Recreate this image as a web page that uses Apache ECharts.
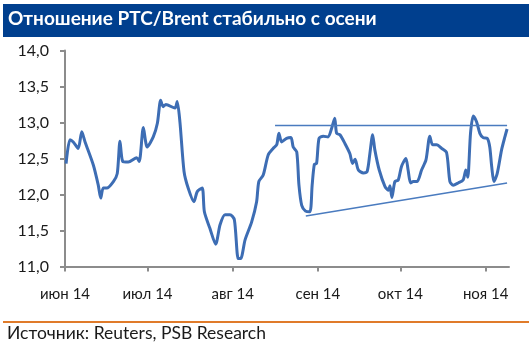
<!DOCTYPE html>
<html>
<head>
<meta charset="utf-8">
<script src="https://cdn.jsdelivr.net/npm/echarts@6/dist/echarts.min.js"></script>
<style>
  html, body { margin: 0; padding: 0; background: #fff; }
  #chart { width: 532px; height: 352px; }
</style>
</head>
<body>
<div id="chart"></div>
<script>
  // дни от 1 июня 2014
  const days = [
    0.4, 1.8, 3.0, 4.8, 6.1, 7.3, 10.3, 12.1, 13.0, 13.9, 15.2, 17.6, 19.0, 20.0, 21.0, 23.0,
    26.1, 27.0, 28.5, 29.9, 32.1, 33.6, 34.8, 35.7, 36.7, 40.0, 40.8, 41.8, 43.3, 44.8, 46.9,
    48.1, 49.9, 50.7, 52.7, 54.8, 56.4, 58.2, 60.0, 61.6, 63.0, 63.9, 65.5, 67.9, 69.7, 70.5,
    72.1, 73.9, 75.7, 77.0, 77.8, 78.8, 80.6, 82.2, 83.0, 84.3, 85.1, 86.1, 87.5, 89.1, 89.9,
    90.7, 91.5, 92.4, 93.9, 95.7, 97.0, 98.1, 98.8, 100.0, 101.8, 103.6, 104.6, 105.5, 106.7,
    108.5, 109.9, 110.9, 111.9, 112.7, 114.3, 116.4, 117.6, 118.2, 118.9, 120.0, 121.2, 122.4,
    124.0, 124.8, 125.7, 126.7, 128.1, 129.7, 131.3, 132.7, 133.7, 135.2, 137.0, 138.8, 140.0,
    141.2, 143.0, 144.8, 145.8, 146.5, 147.5, 148.5, 149.7, 150.9, 152.1, 153.6, 154.5, 155.2,
    156.0, 157.2, 158.8, 160.0, 160.8
  ];
  const ratio = [
    12.43, 12.76, 12.73, 12.64, 12.87, 12.73, 12.41, 12.13, 11.95, 12.09, 12.09, 12.18, 12.29, 12.74, 12.46, 12.45,
    12.51, 12.46, 12.93, 12.66, 12.80, 12.99, 13.31, 13.22, 13.25, 13.20, 13.29, 13.01, 12.32, 12.09, 11.90,
    12.04, 12.09, 11.76, 11.53, 11.31, 11.58, 11.72, 11.72, 11.65, 11.11, 11.11, 11.37, 11.62, 11.90, 12.18,
    12.27, 12.55, 12.64, 12.69, 12.85, 12.73, 12.78, 12.79, 12.66, 12.59, 12.13, 11.85, 11.77, 11.76, 12.13,
    12.42, 12.43, 12.78, 12.81, 12.80, 12.92, 13.06, 12.85, 12.83, 12.71, 12.57, 12.43, 12.49, 12.34,
    12.30, 12.32, 12.57, 12.83, 12.62, 12.34, 12.11, 12.06, 12.12, 11.96, 12.18, 12.20, 12.39,
    12.50, 12.34, 12.16, 12.18, 12.18, 12.34, 12.48, 12.81, 12.69, 12.69, 12.64, 12.58, 12.18,
    12.13, 12.16, 12.20, 12.34, 12.24, 12.85, 13.09, 13.01, 12.85, 12.79, 12.78, 12.66, 12.39,
    12.18, 12.29, 12.62, 12.80, 12.91
  ];
  // линии сопротивления и поддержки
  const topLine = [[76.4, 12.96], [160.8, 12.96]];
  const bottomLine = [[87.6, 11.70], [160.8, 12.16]];

  const monthTicks = [0, 30, 61, 92, 122, 153];
  const monthLabels = ['июн 14', 'июл 14', 'авг 14', 'сен 14', 'окт 14', 'ноя 14'];

  const font = 'Lato, "Noto Sans", sans-serif';
  const axisGray = '#8c8c8c';
  const lineBlue = '#3d6db4';

  const option = {
    animation: false,
    textStyle: { fontFamily: font },
    grid: { left: 65, right: 23, top: 50.5, bottom: 85.5 },
    graphic: [
      { type: 'rect', shape: { x: 3, y: 4, width: 526, height: 33 }, style: { fill: '#003f8e' } },
      {
        type: 'text', left: 8, top: 9,
        style: { text: 'Отношение РТС/Brent стабильно с осени', fill: '#fff', font: 'bold 19px ' + font }
      },
      { type: 'line', shape: { x1: 3, y1: 322, x2: 529, y2: 322 }, style: { stroke: '#e07b2a', lineWidth: 2 } },
      {
        type: 'text', left: 7, top: 324,
        style: { text: 'Источник: Reuters, PSB Research', fill: '#1a1a1a', font: '17.5px ' + font }
      }
    ],
    xAxis: {
      type: 'value',
      min: 0,
      max: 161.5,
      splitLine: { show: false },
      axisLine: { lineStyle: { color: axisGray, width: 2 } },
      axisTick: { show: true, length: 5, customValues: monthTicks, lineStyle: { color: axisGray, width: 2 } },
      axisLabel: {
        customValues: monthTicks,
        margin: 20,
        color: '#1a1a1a',
        fontSize: 15,
        formatter: function (v) {
          const i = monthTicks.indexOf(Math.round(v));
          return i >= 0 ? monthLabels[i] : '';
        }
      }
    },
    yAxis: {
      type: 'value',
      min: 11,
      max: 14,
      interval: 0.5,
      splitLine: { show: false },
      axisLine: { show: true, lineStyle: { color: axisGray, width: 2 } },
      axisTick: { show: true, length: 5, lineStyle: { color: axisGray, width: 2 } },
      axisLabel: {
        margin: 16,
        color: '#1a1a1a',
        fontSize: 16,
        formatter: function (v) { return v.toFixed(1).replace('.', ','); }
      }
    },
    series: [
      {
        type: 'line',
        data: days.map(function (d, i) { return [d, ratio[i]]; }),
        smooth: 0.25,
        symbol: 'none',
        lineStyle: { color: lineBlue, width: 3 }
      },
      {
        type: 'line',
        data: topLine,
        symbol: 'none',
        lineStyle: { color: '#4a7bbf', width: 1.5 }
      },
      {
        type: 'line',
        data: bottomLine,
        symbol: 'none',
        lineStyle: { color: '#4a7bbf', width: 1.5 }
      }
    ]
  };

  const myChart = echarts.init(document.getElementById('chart'));
  myChart.setOption(option);
</script>
</body>
</html>
